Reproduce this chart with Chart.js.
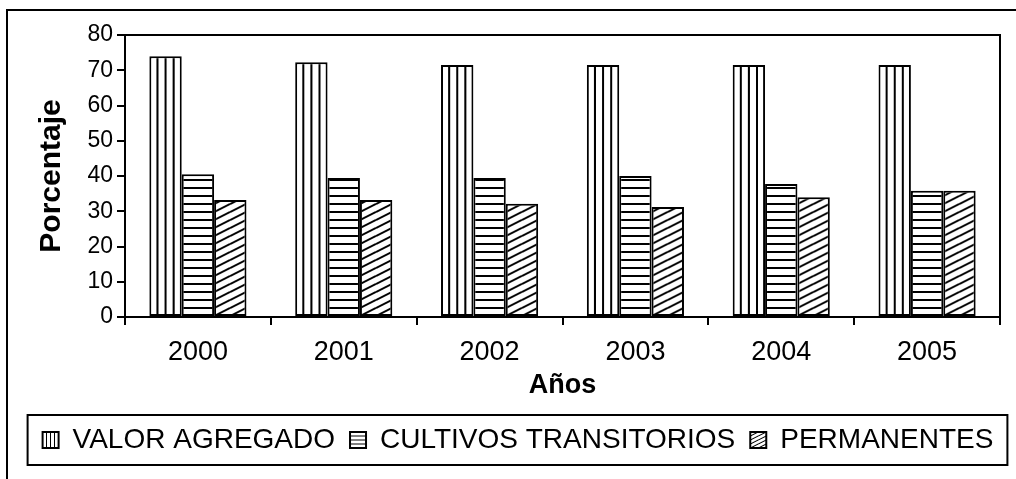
<!DOCTYPE html>
<html>
<head>
<meta charset="utf-8">
<script src="https://cdn.jsdelivr.net/npm/chart.js@4.4.1/dist/chart.umd.min.js"></script>
<style>
  html, body { margin: 0; padding: 0; background: #fff; }
  #wrap { width: 1016px; height: 479px; position: relative; }
</style>
</head>
<body>
<div id="wrap"><canvas id="chart-canvas"></canvas></div>
<script>
var years = ['2000', '2001', '2002', '2003', '2004', '2005'];
var valorAgregado = [74.0, 72.3, 71.5, 71.5, 71.5, 71.5];
var cultivosTransitorios = [40.5, 39.4, 39.4, 40.0, 37.7, 35.8];
var permanentes = [33.2, 33.2, 32.1, 31.2, 34.0, 35.8];
var seriesNames = ['VALOR AGREGADO', 'CULTIVOS TRANSITORIOS', 'PERMANENTES'];
var yTickValues = [0, 10, 20, 30, 40, 50, 60, 70, 80];

var FONT = "'Liberation Sans', Arial, sans-serif";
var kinds = ['vertical', 'horizontal', 'diagonal'];
var bottomPad = 15;

// Small tiles for the black and white hatching.
function makeTile(kind) {
  var tile = document.createElement('canvas');
  tile.width = kind === 'diagonal' ? 16 : 8;
  tile.height = 8;
  var t = tile.getContext('2d');
  t.fillStyle = '#fff';
  t.fillRect(0, 0, tile.width, tile.height);
  t.fillStyle = '#000';
  t.strokeStyle = '#000';
  if (kind === 'vertical') {
    t.fillRect(0, 0, 1, 8);
    t.fillRect(7, 0, 1, 8);
  } else if (kind === 'horizontal') {
    t.fillRect(0, 0, 8, 1);
    t.fillRect(0, 7, 8, 1);
  } else {
    t.lineWidth = 2;
    for (var k = -1; k <= 1; k++) {
      t.beginPath();
      t.moveTo(0, 8 + 8 * k);
      t.lineTo(16, 8 * k);
      t.stroke();
    }
  }
  return tile;
}

var canvasElement = document.getElementById('chart-canvas');
var ctx = canvasElement.getContext('2d');
var tiles = kinds.map(makeTile);
var seriesValues = [valorAgregado, cultivosTransitorios, permanentes];

// One pattern per bar, so each one can be lined up with its own bar.
var datasets = seriesValues.map(function (values, i) {
  return {
    label: seriesNames[i],
    data: values,
    backgroundColor: values.map(function () { return ctx.createPattern(tiles[i], 'repeat'); }),
    borderColor: '#000',
    borderWidth: 2,
    borderSkipped: false,
    barPercentage: 1,
    categoryPercentage: 0.666
  };
});
var legendPatterns = tiles.map(function (tile) { return ctx.createPattern(tile, 'repeat'); });

var hatchPlugin = {
  id: 'hatch',
  beforeDraw: function (chart) {
    chart.data.datasets.forEach(function (ds, i) {
      var meta = chart.getDatasetMeta(i);
      meta.data.forEach(function (bar, j) {
        var left = bar.x - bar.width / 2;
        var m;
        if (kinds[i] === 'vertical') {
          m = new DOMMatrix().translate(left, 0).scale(bar.width / 32, 1);
        } else if (kinds[i] === 'horizontal') {
          m = new DOMMatrix().translate(0, bar.base);
        } else {
          m = new DOMMatrix().translate(left, bar.base);
        }
        ds.backgroundColor[j].setTransform(m);
      });
    });

    var boxes = chart.legend.legendHitBoxes;
    boxes.forEach(function (hb, i) {
      var boxTop = hb.top + 6;
      var m;
      if (kinds[i] === 'vertical') {
        m = new DOMMatrix().translate(hb.left, 0).scale(0.5, 1);
      } else if (kinds[i] === 'horizontal') {
        m = new DOMMatrix().translate(0, boxTop).scale(1, 0.5);
      } else {
        m = new DOMMatrix().translate(hb.left, boxTop + 16).scale(0.5, 0.5);
      }
      legendPatterns[i].setTransform(m);
    });
  },
  afterDraw: function (chart) {
    var c = chart.ctx;
    var a = chart.chartArea;
    c.save();
    c.fillStyle = '#000';
    // outer frame, only its top and left edges fall inside the picture
    c.fillRect(6, 9, chart.width - 6, 2);
    c.fillRect(6, 9, 2, chart.height - 9);
    // top and right sides of the plot box
    c.fillRect(a.left - 1, a.top - 1, a.right - a.left + 2, 2);
    c.fillRect(a.right - 1, a.top - 1, 2, a.bottom - a.top + 2);
    // box round the legend
    var boxes = chart.legend.legendHitBoxes;
    var first = boxes[0];
    var last = boxes[boxes.length - 1];
    var cy = first.top + first.height / 2;
    c.lineWidth = 2;
    c.strokeStyle = '#000';
    c.strokeRect(first.left - 15, cy - 25, last.left + last.width + 14 - (first.left - 15), 50);
    c.restore();
  }
};

new Chart(ctx, {
  type: 'bar',
  data: { labels: years, datasets: datasets },
  plugins: [hatchPlugin],
  options: {
    responsive: true,
    maintainAspectRatio: false,
    animation: false,
    events: [],
    layout: { padding: { left: 20, right: 0, top: 35, bottom: bottomPad } },
    plugins: {
      tooltip: { enabled: false },
      legend: {
        position: 'bottom',
        labels: {
          color: '#000',
          font: { family: FONT, size: 28 },
          boxWidth: 16,
          boxHeight: 16,
          padding: 15,
          generateLabels: function (chart) {
            var items = Chart.defaults.plugins.legend.labels.generateLabels(chart);
            items.forEach(function (item, i) {
              item.fillStyle = legendPatterns[i];
              item.strokeStyle = '#000';
              item.lineWidth = 2;
            });
            return items;
          }
        }
      }
    },
    scales: {
      x: {
        offset: true,
        grid: { offset: true, drawOnChartArea: false, drawTicks: true, tickLength: 8, color: '#000', lineWidth: 2 },
        border: { color: '#000', width: 2 },
        ticks: { color: '#000', font: { family: FONT, size: 27 }, padding: 11 },
        title: {
          display: true,
          text: 'Años',
          color: '#000',
          font: { family: FONT, size: 27, weight: 'bold' },
          padding: { top: 0, bottom: 9 }
        },
        afterFit: function (scale) {
          scale.height = scale.chart.height - bottomPad - scale.chart.legend.height - 317;
        }
      },
      y: {
        min: 0,
        max: 80,
        afterBuildTicks: function (scale) {
          scale.ticks = yTickValues.map(function (v) { return { value: v }; });
        },
        grid: { drawOnChartArea: false, tickLength: 8, color: '#000', lineWidth: 2 },
        border: { color: '#000', width: 2 },
        ticks: { color: '#000', font: { family: FONT, size: 23 }, padding: 4 },
        title: {
          display: true,
          text: 'Porcentaje',
          color: '#000',
          font: { family: FONT, size: 30, weight: 'bold' },
          padding: { top: 14, bottom: 0 }
        },
        afterFit: function (scale) {
          scale.width = 105;
        }
      },
      yRight: {
        position: 'right',
        grid: { display: false },
        border: { display: false },
        ticks: { display: false },
        afterFit: function (scale) {
          scale.width = 16;
        }
      }
    }
  }
});
</script>
</body>
</html>
